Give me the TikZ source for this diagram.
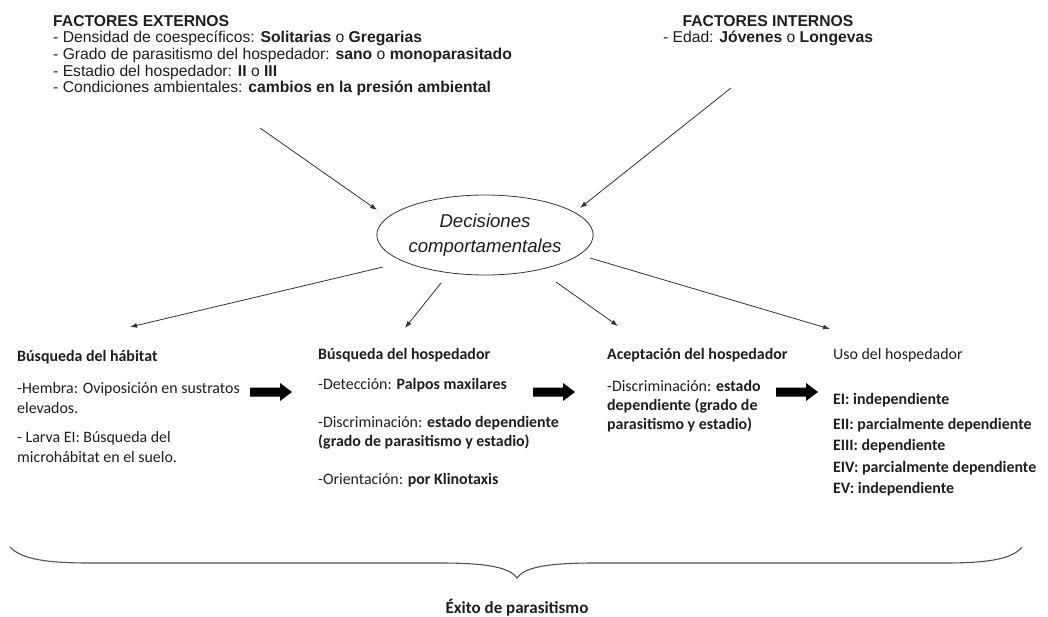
\documentclass[tikz,border=0pt]{standalone}
\usepackage{fontspec}
\setmainfont{Carlito}
\newfontfamily\arialfont{Liberation Sans}
\usetikzlibrary{shapes.geometric,arrows.meta}
\definecolor{tinta}{HTML}{1E1E1E}
\definecolor{linea}{HTML}{333333}
\tikzset{
  factores/.style={inner sep=0pt, text=tinta, font=\arialfont\fontsize{15.7}{16.7}\selectfont},
  bloque/.style={anchor=base west, align=left, inner sep=0pt, text=tinta},
  flechita/.style={draw=linea, line width=0.8pt, -{Latex[length=7pt,width=5pt]}},
  flechagorda/.pic={\fill[black] (0,-4.5) -- (30,-4.5) -- (30,-9) -- (42,0) -- (30,9) -- (30,4.5) -- (0,4.5) -- cycle;}
}
\begin{document}
\begin{tikzpicture}[x=1pt, y=-1pt]
\useasboundingbox (0,0) rectangle (1048,617);
% factores externos e internos
\node[factores, anchor=north west, align=left] (ext) at (53,15) {\textbf{FACTORES EXTERNOS}\\
  - Densidad de coespecíficos: \textbf{Solitarias} o \textbf{Gregarias}\\
  - Grado de parasitismo del hospedador: \textbf{sano} o \textbf{monoparasitado}\\
  - Estadio del hospedador: \textbf{II} o \textbf{III}\\
  - Condiciones ambientales: \textbf{cambios en la presión ambiental}};
\node[factores, anchor=north, align=center] (int) at (768,15) {\textbf{FACTORES INTERNOS}\\
  - Edad: \textbf{Jóvenes} o \textbf{Longevas}};
% decisiones
\node[draw=linea, line width=0.8pt, ellipse, minimum width=194pt, minimum height=80pt, inner sep=0pt,
  align=center, text=tinta, font=\arialfont\itshape\fontsize{18.6}{25}\selectfont] (dec) at (485,235)
  {Decisiones\\comportamentales};
% puntos de las flechas
\coordinate (ext-s) at (260,128);
\coordinate (dec-nw) at (377,210);
\coordinate (int-s) at (731,88);
\coordinate (dec-ne) at (580,208);
\coordinate (dec-w) at (383,267);
\coordinate (dec-sw) at (441,283);
\coordinate (dec-se) at (556,282);
\coordinate (dec-e) at (590,258);
\coordinate (hab-n) at (130,327);
\coordinate (hos-n) at (405,328);
\coordinate (ace-n) at (618,326);
\coordinate (uso-n) at (830,329);
\draw[flechita] (ext-s) -- (dec-nw);
\draw[flechita] (int-s) -- (dec-ne);
\draw[flechita] (dec-w) -- (hab-n);
\draw[flechita] (dec-sw) -- (hos-n);
\draw[flechita] (dec-se) -- (ace-n);
\draw[flechita] (dec-e) -- (uso-n);
% etapas (base = ultima linea)
\node[bloque, font=\fontsize{15.9}{20}\selectfont] (hab) at (17,462) {\textbf{Búsqueda del hábitat}\\[12.5pt]
  -Hembra: Oviposición en sustratos\\
  elevados.\\[8.5pt]
  - Larva EI: Búsqueda del\\
  microhábitat en el suelo.};
\node[bloque, font=\fontsize{15.9}{19}\selectfont] (hos) at (318,484.5) {\textbf{Búsqueda del hospedador}\\[11pt]
  -Detección: \textbf{Palpos maxilares}\\[19pt]
  -Discriminación: \textbf{estado dependiente}\\
  \textbf{(grado de parasitismo y estadio)}\\[19pt]
  -Orientación: \textbf{por Klinotaxis}};
\node[bloque, font=\fontsize{15.9}{19}\selectfont] (ace) at (607,429.5) {\textbf{Aceptación del hospedador}\\[13pt]
  -Discriminación: \textbf{estado}\\
  \textbf{dependiente (grado de}\\
  \textbf{parasitismo y estadio)}};
\node[bloque, font=\fontsize{15.9}{21.5}\selectfont] (uso) at (833,493.5) {Uso del hospedador\\[23.5pt]
  \textbf{EI: independiente}\\[3.5pt]
  \textbf{EII: parcialmente dependiente}\\
  \textbf{EIII: dependiente}\\
  \textbf{EIV: parcialmente dependiente}\\
  \textbf{EV: independiente}};
\pic at (250,392) {flechagorda};
\pic at (533,392) {flechagorda};
\pic at (776,392) {flechagorda};
% llave y exito
\draw[draw=linea!85, line width=1.1pt] (10,547) .. controls (22,560) and (50,563) .. (90,563) -- (440,563)
  .. controls (490,563) and (510,568) .. (517,578) .. controls (524,568) and (544,563) .. (594,563)
  -- (944,563) .. controls (984,563) and (1012,560) .. (1022,547);
\node[anchor=base, inner sep=0pt, text=tinta, font=\bfseries\fontsize{17}{19}\selectfont] (exito) at (517,613) {Éxito de parasitismo};
\end{tikzpicture}
\end{document}
